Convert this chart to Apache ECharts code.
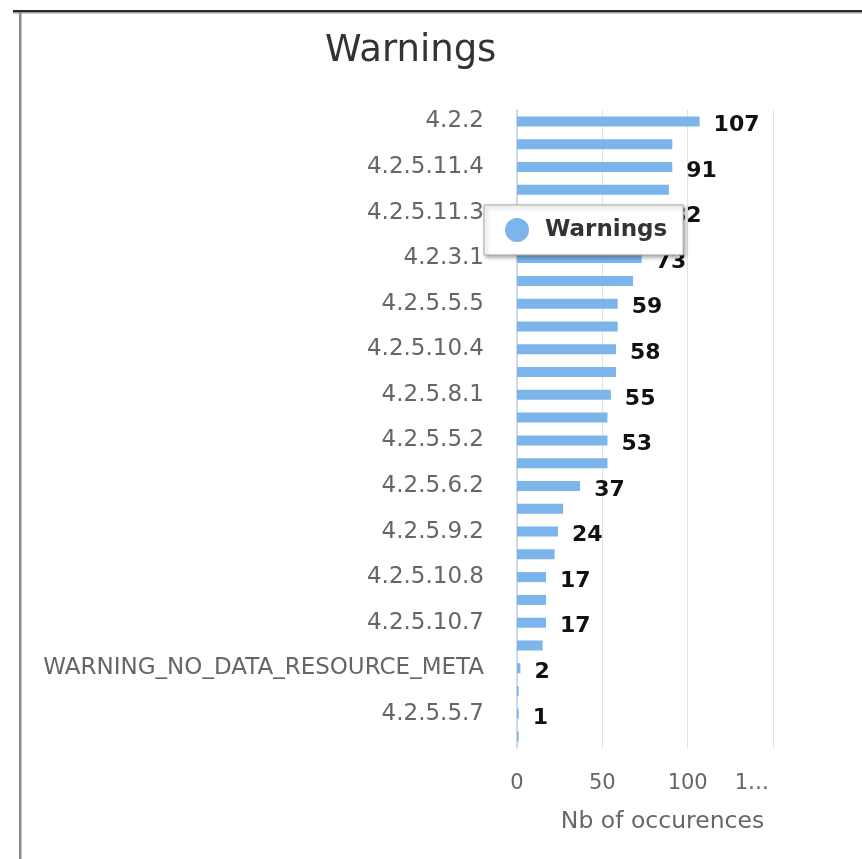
<!DOCTYPE html>
<html>
<head>
<meta charset="utf-8">
<script src="https://cdn.jsdelivr.net/npm/echarts@6/dist/echarts.min.js"></script>
<style>
html,body{margin:0;padding:0;background:#fff;}
#chart{width:862px;height:859px;}
</style>
</head>
<body>
<div id="chart"></div>
<script>
// Categories (only every other name is visible in the reference; hidden ones left blank)
var categories = [
  '4.2.2', '', '4.2.5.11.4', '', '4.2.5.11.3', '', '4.2.3.1', '',
  '4.2.5.5.5', '', '4.2.5.10.4', '', '4.2.5.8.1', '', '4.2.5.5.2', '',
  '4.2.5.6.2', '', '4.2.5.9.2', '', '4.2.5.10.8', '', '4.2.5.10.7', '',
  'WARNING_NO_DATA_RESOURCE_META', '', '4.2.5.5.7', ''
];
var warnings = [
  107, 91, 91, 89, 82, 76, 73, 68,
  59, 59, 58, 58, 55, 53, 53, 53,
  37, 27, 24, 22, 17, 17, 17, 15,
  2, 1, 1, 1
];
var xTicks = [0, 50, 100, 150];
var seriesName = 'Warnings';
var titleText = 'Warnings';
var xAxisName = 'Nb of occurences';

var chart = echarts.init(document.getElementById('chart'), null, {renderer: 'canvas'});

var barData = warnings.map(function (v, i) {
  return { value: v, label: { show: i % 2 === 0 } };
});

var option = {
  animation: false,
  textStyle: { fontFamily: 'DejaVu Sans' },
  title: {
    text: titleText,
    left: 320,
    top: 28,
    textStyle: { fontSize: 37, fontWeight: 'normal', color: '#333333', fontFamily: 'DejaVu Sans' }
  },
  legend: {
    data: [seriesName],
    left: 484,
    top: 205,
    orient: 'horizontal',
    selectedMode: false,
    icon: 'circle',
    itemWidth: 24,
    itemHeight: 24,
    padding: [13, 16, 13, 21],
    backgroundColor: '#ffffff',
    borderColor: '#a8a8a8',
    borderWidth: 1,
    shadowBlur: 4,
    shadowColor: 'rgba(0,0,0,0.35)',
    shadowOffsetX: 2,
    shadowOffsetY: 2,
    textStyle: { fontSize: 23, fontWeight: 'bold', color: '#333333', padding: [0, 0, 0, 11], fontFamily: 'DejaVu Sans' },
    z: 10
  },
  grid: { left: 517, right: 89, top: 110, bottom: 111, containLabel: false },
  xAxis: {
    type: 'value',
    min: xTicks[0],
    max: xTicks[xTicks.length - 1],
    interval: xTicks[1] - xTicks[0],
    axisLine: { show: false },
    axisTick: { show: false },
    splitLine: { show: true, lineStyle: { color: '#e2e2e2', width: 1 } },
    axisLabel: {
      color: '#666666',
      fontSize: 21,
      margin: 25,
      alignMaxLabel: 'right',
      formatter: function (v) {
        return v === xTicks[xTicks.length - 1] ? '{m|' + String(v).charAt(0) + '\u2026}' : String(v);
      },
      rich: { m: { fontSize: 21, color: '#666666', padding: [0, 4, 0, 0], fontFamily: 'DejaVu Sans' } }
    },
    name: xAxisName,
    nameLocation: 'middle',
    nameGap: 62,
    nameTextStyle: { fontSize: 23.5, color: '#666666', padding: [0, 0, 0, 35], fontFamily: 'DejaVu Sans' }
  },
  yAxis: {
    type: 'category',
    data: categories,
    inverse: true,
    axisLine: { show: true, lineStyle: { color: '#c0d0e0', width: 1.5 } },
    axisTick: { show: false },
    splitLine: { show: false },
    axisLabel: { interval: 1, fontSize: 23, color: '#666666', margin: 33, fontFamily: 'DejaVu Sans' }
  },
  series: [{
    name: seriesName,
    type: 'bar',
    data: barData,
    barWidth: 10,
    itemStyle: { color: '#7cb5ec' },
    label: {
      position: 'right',
      distance: 14,
      offset: [0, 4],
      fontSize: 22,
      fontWeight: 'bold',
      color: '#111111',
      fontFamily: 'DejaVu Sans'
    },
    z: 2
  }],
  graphic: [
    { type: 'rect', left: 13, top: 10, shape: { width: 849, height: 2 }, style: { fill: '#2a2a2a' }, silent: true },
    { type: 'rect', left: 13, top: 12, shape: { width: 849, height: 1.5 }, style: { fill: '#9a9a9a' }, silent: true },
    { type: 'rect', left: 19, top: 12, shape: { width: 2.5, height: 847 }, style: { fill: '#8a8a8a' }, silent: true }
  ]
};
chart.setOption(option);
</script>
</body>
</html>
